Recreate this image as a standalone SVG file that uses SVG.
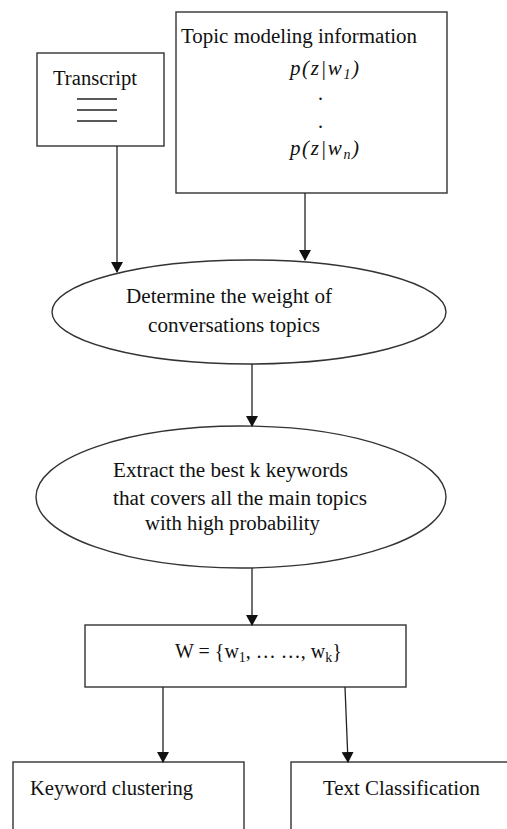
<svg xmlns="http://www.w3.org/2000/svg" width="507" height="829" viewBox="0 0 507 829">
<style>
.box{fill:#fff;stroke:#333;stroke-width:1.4}
.t{font-family:"Liberation Serif","Times New Roman",serif;font-size:20px;fill:#111}
.m{font-family:"Liberation Serif","Times New Roman",serif;font-size:21px;font-style:italic;letter-spacing:1.6px;fill:#111}
.sub{font-size:14px}
.conn line{stroke:#222;stroke-width:1.3}
</style>
<defs>
<marker id="arr" markerUnits="userSpaceOnUse" markerWidth="12" markerHeight="14" refX="10" refY="6" orient="auto">
<path d="M0,0 L11,6 L0,12 Z" fill="#111"/>
</marker>
</defs>
<rect width="507" height="829" fill="#fff"/>
<g id="transcript">
<rect class="box" x="37" y="53" width="127" height="93"/>
<text class="t" x="53" y="85" textLength="84" lengthAdjust="spacingAndGlyphs">Transcript</text>
<line x1="77" y1="99" x2="117" y2="99" stroke="#222" stroke-width="1.3"/>
<line x1="77" y1="110" x2="117" y2="110" stroke="#222" stroke-width="1.3"/>
<line x1="77" y1="121" x2="117" y2="121" stroke="#222" stroke-width="1.3"/>
</g>
<g id="topic-info">
<rect class="box" x="176" y="12" width="271" height="181"/>
<text class="t" x="181" y="43" textLength="236" lengthAdjust="spacingAndGlyphs">Topic modeling information</text>
<text class="m" x="290" y="75">p(z|w<tspan class="sub" dy="4">1</tspan><tspan dy="-4">)</tspan></text>
<text class="t" x="318" y="100">.</text>
<text class="t" x="318" y="128">.</text>
<text class="m" x="290" y="155">p(z|w<tspan class="sub" dy="4">n</tspan><tspan dy="-4">)</tspan></text>
</g>
<g id="determine">
<ellipse class="box" cx="249" cy="312" rx="197" ry="52"/>
<text class="t" x="126" y="303" textLength="206" lengthAdjust="spacingAndGlyphs">Determine the weight of</text>
<text class="t" x="148" y="332" textLength="172" lengthAdjust="spacingAndGlyphs">conversations topics</text>
</g>
<g id="extract">
<ellipse class="box" cx="241" cy="497" rx="205" ry="71"/>
<text class="t" x="113" y="477" textLength="235" lengthAdjust="spacingAndGlyphs">Extract the best k keywords</text>
<text class="t" x="113" y="505" textLength="254" lengthAdjust="spacingAndGlyphs">that covers all the main topics</text>
<text class="t" x="145" y="530" textLength="175" lengthAdjust="spacingAndGlyphs">with high probability</text>
</g>
<g id="keywords">
<rect class="box" x="85" y="625" width="321" height="62"/>
<text class="t" x="175" y="658">W = {w<tspan class="sub" dy="4">1</tspan><tspan dy="-4">, … …, w</tspan><tspan class="sub" dy="4">k</tspan><tspan dy="-4">}</tspan></text>
</g>
<g id="clustering">
<rect class="box" x="13" y="762" width="231" height="90"/>
<text class="t" x="30" y="795" textLength="163" lengthAdjust="spacingAndGlyphs">Keyword clustering</text>
</g>
<g id="classification">
<rect class="box" x="291" y="762" width="240" height="90"/>
<text class="t" x="323" y="795" textLength="157" lengthAdjust="spacingAndGlyphs">Text Classification</text>
</g>
<g class="conn" id="connectors">
<line x1="117" y1="146" x2="117" y2="272" marker-end="url(#arr)"/>
<line x1="305" y1="193" x2="305" y2="260" marker-end="url(#arr)"/>
<line x1="252" y1="364" x2="252" y2="426" marker-end="url(#arr)"/>
<line x1="252" y1="568" x2="252" y2="625" marker-end="url(#arr)"/>
<line x1="163" y1="687" x2="163" y2="762" marker-end="url(#arr)"/>
<line x1="345" y1="687" x2="348" y2="762" marker-end="url(#arr)"/>
</g>
</svg>
